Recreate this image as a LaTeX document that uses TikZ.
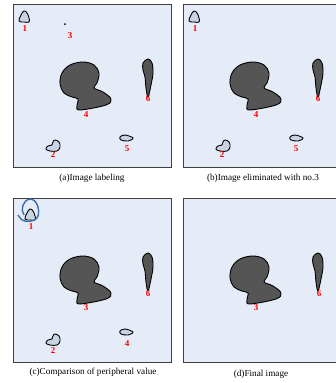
\documentclass[tikz,border=0pt]{standalone}
\usepackage{fontspec}
\setmainfont{Liberation Serif}
\definecolor{panelbg}{HTML}{E6ECF7}
\definecolor{panelborder}{HTML}{404040}
\definecolor{blobdark}{HTML}{555555}
\definecolor{bloblight}{HTML}{C8D4E4}
\definecolor{ringblue}{HTML}{3D6FA8}
\begin{document}
\begin{tikzpicture}[x=1pt,y=-1pt,
  panel/.style={fill=panelbg, draw=panelborder, line width=1pt},
  dark/.style={fill=blobdark, draw=black, line width=0.9pt},
  light/.style={fill=bloblight, draw=black, line width=0.9pt},
  lab/.style={text=red, font=\fontsize{9}{9}\selectfont\bfseries, inner sep=0pt},
  captext/.style={font=\fontsize{9.2}{10}\selectfont, inner sep=0pt},
  pics/bigblob/.style={code={
    \draw[dark] plot[smooth cycle, tension=0.6] coordinates {(64,93) (60,84) (62,73) (70,65) (83,62) (94,65) (99,73) (97,83) (94,88) (103,92) (111,99) (106,105) (80,110) (77,106) (78,99) (72,97)};}},
  pics/tallblob/.style={code={
    \draw[dark] plot[smooth cycle, tension=0.6] coordinates {(148,59) (152,63) (153,73) (151,85) (148,97) (146,88) (145,77) (143,70) (143,63)};}},
  pics/oneblob/.style={code={
    \draw[light] plot[smooth cycle, tension=0.7] coordinates {(24,11) (27,13) (29,18) (29,22) (24,22) (19,21) (21,15)};}},
  pics/twoblob/.style={code={
    \draw[light] plot[smooth cycle, tension=0.7] coordinates {(55,140) (59,142) (60,147) (57,151) (50,151) (46,149) (48,146) (52,145) (53,142)};}},
  pics/fiveblob/.style={code={
    \draw[light] plot[smooth cycle, tension=0.6] coordinates {(120,137) (125,135) (133,138) (128,141) (121,140)};}}
]
\useasboundingbox (0,0) rectangle (336,383);
\clip (0,0) rectangle (336,383);
\fill[white] (0,0) rectangle (336,383);

% panels
\draw[panel] (13,4) rectangle (171,167);
\draw[panel] (183,4) rectangle (340,167);
\draw[panel] (13,198) rectangle (171,362);
\draw[panel] (183,198) rectangle (340,362);

% ---- panel (a)
\pic at (0,0) {bigblob};
\pic at (0,0) {tallblob};
\pic at (0,0) {oneblob};
\pic at (0,0) {twoblob};
\pic at (0,0) {fiveblob};
\fill[black] (65,24) circle (1);
\node[lab] (a1) at (25,29) {1};
\node[lab] (a3) at (70,36) {3};
\node[lab] (a4) at (86,115) {4};
\node[lab] (a6) at (148,99) {6};
\node[lab] (a5) at (127,149) {5};
\node[lab] (a2) at (53,155) {2};
\node[captext] (capa) at (92,178) {(a)Image labeling};

% ---- panel (b)
\pic at (170,0) {bigblob};
\pic at (170,0) {tallblob};
\pic at (170,0) {oneblob};
\pic at (170,0) {twoblob};
\pic at (170,0) {fiveblob};
\node[lab] (b1) at (195,29) {1};
\node[lab] (b4) at (256,115) {4};
\node[lab] (b6) at (318,99) {6};
\node[lab] (b5) at (296,149) {5};
\node[lab] (b2) at (222,155) {2};
\node[captext] (capb) at (263,178) {(b)Image eliminated with no.3};

% ---- panel (c)
\pic at (0,194) {bigblob};
\pic at (0,194) {tallblob};
\pic at (6,198) {oneblob};
\pic at (0,194) {twoblob};
\pic at (0,194) {fiveblob};
\draw[ringblue, line width=1.4pt] (24,215) .. controls (20,210) and (23,200) .. (30,199)
  .. controls (37,199) and (40,210) .. (38,216)
  .. controls (36,222) and (25,223) .. (21,219)
  .. controls (20,218) and (19,216) .. (18,215);
\node[lab] (c1) at (31,227) {1};
\node[lab] (c3) at (86,308) {3};
\node[lab] (c6) at (148,294) {6};
\node[lab] (c4) at (127,344) {4};
\node[lab] (c2) at (53,351) {2};
\node[captext] (capc) at (93,372) {(c)Comparison of peripheral value};

% ---- panel (d)
\pic at (170,194) {bigblob};
\pic at (170,194) {tallblob};
\node[lab] (d3) at (256,308) {3};
\node[lab] (d6) at (319,294) {6};
\node[captext] (capd) at (261,374) {(d)Final image};
\end{tikzpicture}
\end{document}
